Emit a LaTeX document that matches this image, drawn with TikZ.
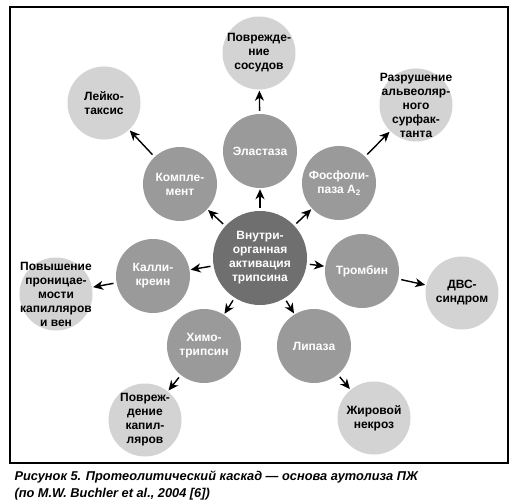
\documentclass[tikz,border=0pt]{standalone}
\usepackage{fontspec}
\setmainfont{Liberation Sans}
\usetikzlibrary{arrows.meta,positioning}
\definecolor{CoreGray}{HTML}{6F6F6F}
\definecolor{MidGray}{HTML}{9A9A9A}
\definecolor{OuterGray}{HTML}{D3D3D3}

\begin{document}
\begin{tikzpicture}[
x=1pt,y=-1pt,
font=\bfseries\fontsize{12}{14}\selectfont,
core/.style={circle,fill=CoreGray,minimum size=94pt,inner sep=0pt},
enz/.style={circle,fill=MidGray,minimum size=74pt,inner sep=0pt},
eff/.style={circle,fill=OuterGray,minimum size=73pt,inner sep=0pt},
wtxt/.style={align=center,text=white},
btxt/.style={align=center,text=black},
capt/.style={anchor=base west,font=\bfseries\itshape\fontsize{12.8}{16}\selectfont},
arr/.style={-{Stealth[length=10pt,width=9pt,inset=3pt]},line width=1.4pt,shorten <=3pt,shorten >=1pt}
]
\useasboundingbox (0,0) rectangle (517,500);
\draw[line width=1.3pt] (10,7) rectangle (508,463);

% trypsin and the enzymes it switches on
\node[core,label={[wtxt]center:{Внутри-\\органная\\активация\\трипсина}}] (tryp) at (260,258) {};
\node[enz,label={[wtxt]center:{Эластаза}}] (elast) at (260,151) {};
\node[enz,label={[wtxt]center:{Компле-\\мент}}] (compl) at (180,184) {};
\node[enz,label={[wtxt]center:{Фосфоли-\\паза A\textsubscript{2}}}] (phosph) at (339,183) {};
\node[enz,label={[wtxt]center:{Калли-\\креин}}] (kallik) at (153,276) {};
\node[enz,label={[wtxt]center:{Тромбин}}] (thromb) at (362,271) {};
\node[enz,label={[wtxt]center:{Химо-\\трипсин}}] (chymo) at (204,346) {};
\node[enz,label={[wtxt]center:{Липаза}}] (lipase) at (314,346) {};

% effects
\node[eff,label={[btxt]center:{Поврежде-\\ние\\сосудов}}] (vessels) at (259,53) {};
\node[eff,label={[btxt]center:{Лейко-\\таксис}}] (leuko) at (104,103) {};
\node[eff,label={[btxt]center:{Разрушение\\альвеоляр-\\ного\\сурфак-\\танта}}] (surf) at (416,105) {};
\node[eff,label={[btxt]center:{Повышение\\проницае-\\мости\\капилляров\\и вен}}] (perm) at (56,294) {};
\node[eff,label={[btxt]center:{ДВС-\\синдром}}] (dic) at (462,293) {};
\node[eff,label={[btxt]center:{Повреж-\\дение\\капил-\\ляров}}] (capil) at (145,420) {};
\node[eff,label={[btxt]center:{Жировой\\некроз}}] (necro) at (374,418) {};

\foreach \n in {elast,compl,phosph,kallik,thromb,chymo,lipase}
  \draw[arr] (tryp) -- (\n);
\draw[arr] (elast) -- (vessels);
\draw[arr] (compl) -- (leuko);
\draw[arr] (phosph) -- (surf);
\draw[arr] (kallik) -- (perm);
\draw[arr] (thromb) -- (dic);
\draw[arr] (chymo) -- (capil);
\draw[arr] (lipase) -- (necro);

\node[capt] (cap1) at (11,480) {Рисунок 5. Протеолитический каскад — основа аутолиза ПЖ};
\node[capt] (cap2) at (11,497) {(по M.W. Buchler et al., 2004 [6])};
\end{tikzpicture}
\end{document}
